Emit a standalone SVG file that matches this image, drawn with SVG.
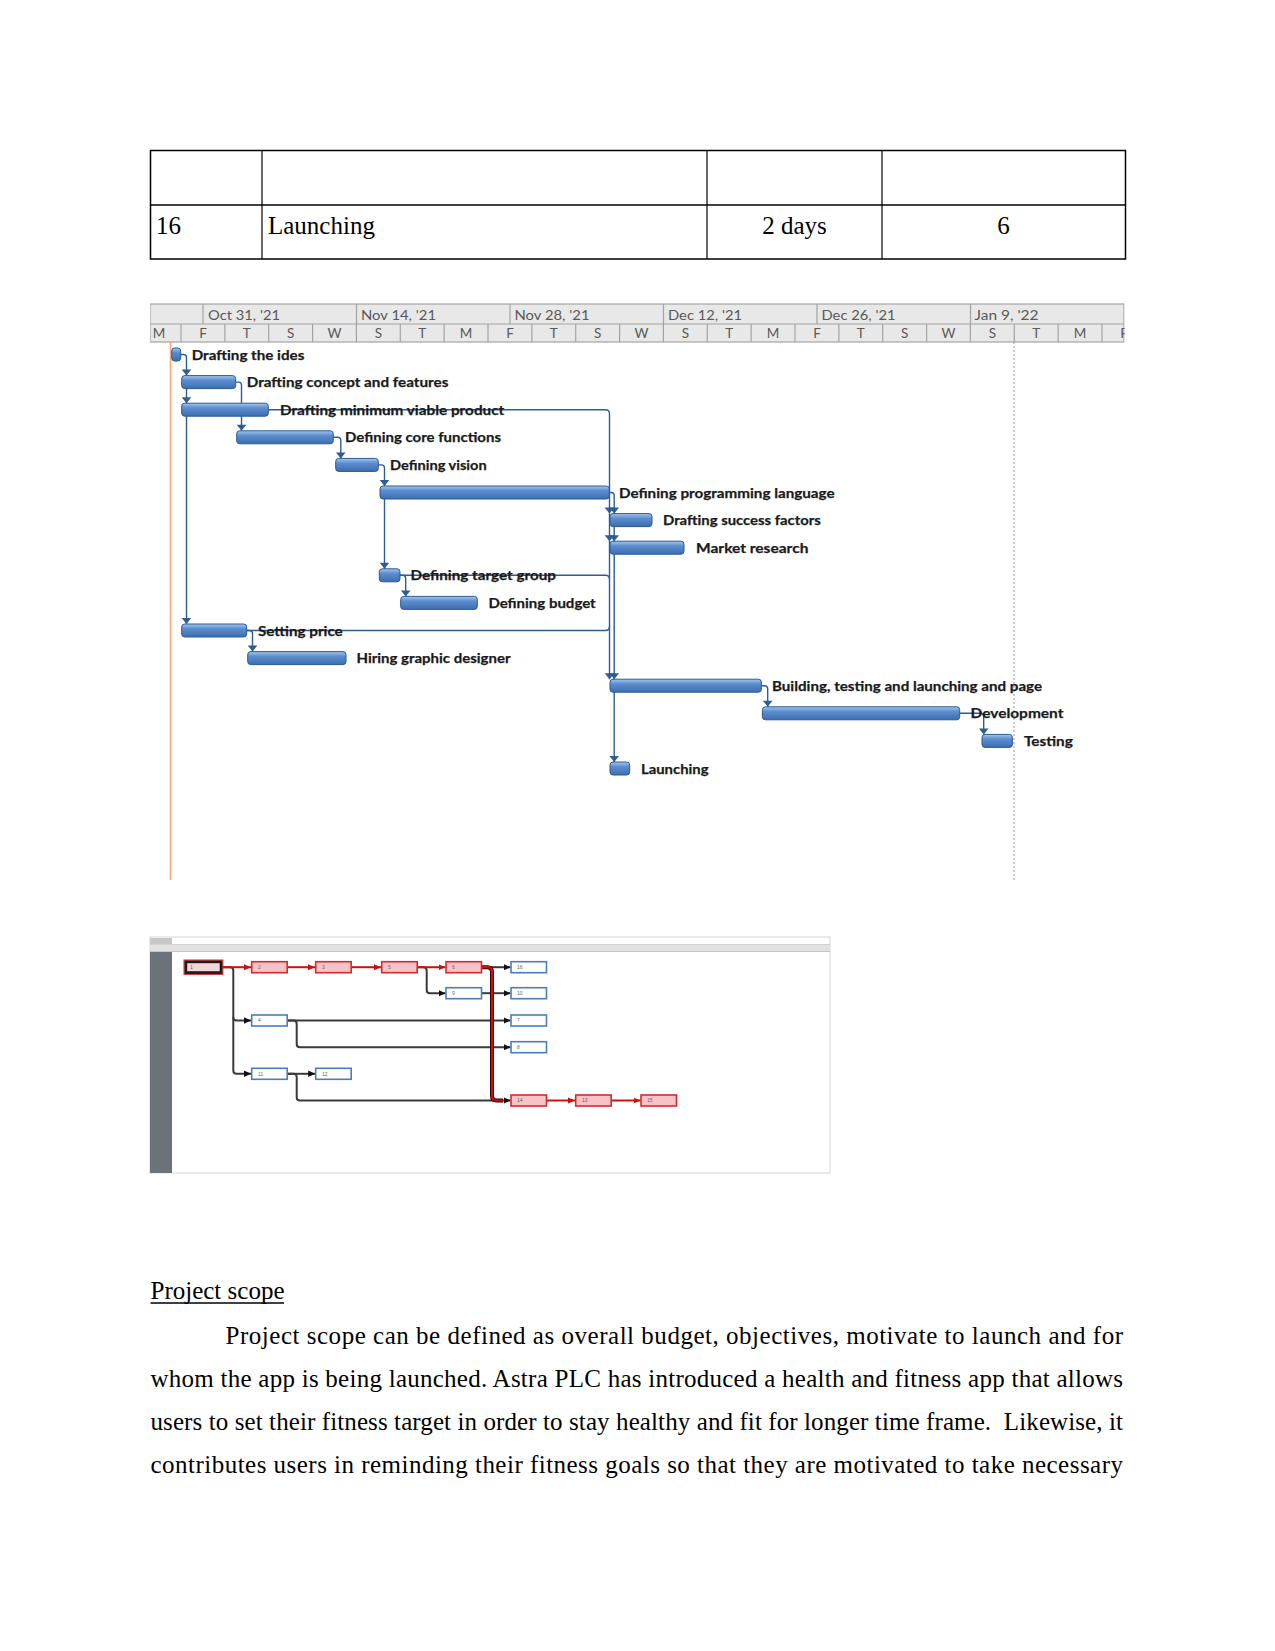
<svg xmlns="http://www.w3.org/2000/svg" xmlns:xlink="http://www.w3.org/1999/xlink" width="1275" height="1651" viewBox="0 0 1275 1651">
<style>
.doc{font-family:"Liberation Serif","Times New Roman",serif;font-size:25px;fill:#000}
.hdr{font-family:Lato,"Liberation Sans",sans-serif;font-size:13.5px;fill:#595959}
.lbl{font-family:Lato,"Liberation Sans",sans-serif;font-size:14px;font-weight:bold;fill:#1a1a1a;stroke:#1a1a1a;stroke-width:0.25}
.bar{fill:url(#barG);stroke:#2b5a92;stroke-width:1}
.lnk{fill:none;stroke:#2f5d93;stroke-width:1.4}
.nb{fill:#fff;stroke:#4a7dbc;stroke-width:1.6}
.nr{fill:#f8c3c6;stroke:#d42a30;stroke-width:1.6}
.nl{font-family:"Liberation Sans",Arial,sans-serif;font-size:5px;fill:#666}
.bk{fill:none;stroke:#3a3a3a;stroke-width:2}
.rd{fill:none;stroke:#d01010;stroke-width:2}
</style>
<defs>
<linearGradient id="barG" x1="0" y1="0" x2="0" y2="1">
<stop offset="0" stop-color="#a9c6ea"/>
<stop offset="0.35" stop-color="#5d8fd0"/>
<stop offset="1" stop-color="#3c6db0"/>
</linearGradient>
<path id="ga" d="M-4.8,-6 L4.8,-6 L0,0 Z" fill="#2f5d93"/>
<marker id="ab" markerWidth="8" markerHeight="8" refX="7" refY="4" orient="auto" markerUnits="userSpaceOnUse">
<path d="M0,0.8 L7,4 L0,7.2 Z" fill="#111"/>
</marker>
<marker id="ar" markerWidth="8" markerHeight="8" refX="7" refY="4" orient="auto" markerUnits="userSpaceOnUse">
<path d="M0,1 L7,4 L0,7 Z" fill="#c81010"/>
</marker>
<clipPath id="hclip"><rect x="150" y="300" width="974.5" height="50"/></clipPath>
</defs>
<rect width="1275" height="1651" fill="#fff"/>

<!-- Table -->
<g id="table">
<rect x="150.5" y="150.5" width="975" height="108.5" fill="none" stroke="#000" stroke-width="1.5"/>
<line x1="150.5" y1="205" x2="1125.5" y2="205" stroke="#000" stroke-width="1.3"/>
<line x1="262" y1="150.5" x2="262" y2="259" stroke="#000" stroke-width="1.2"/>
<line x1="707" y1="150.5" x2="707" y2="259" stroke="#000" stroke-width="1.2"/>
<line x1="882" y1="150.5" x2="882" y2="259" stroke="#000" stroke-width="1.2"/>
<text class="doc" x="156" y="234">16</text>
<text class="doc" x="268" y="234">Launching</text>
<text class="doc" x="794.5" y="234" text-anchor="middle">2 days</text>
<text class="doc" x="1003.5" y="234" text-anchor="middle">6</text>
</g>

<!-- Gantt chart -->
<g id="gantt-header" clip-path="url(#hclip)">
<rect x="150" y="304" width="974" height="38" fill="#e8e8e8" stroke="#a3a3a3" stroke-width="1.2"/>
<line x1="150" y1="324" x2="1124" y2="324" stroke="#a3a3a3" stroke-width="1.2"/>
<g stroke="#a3a3a3" stroke-width="1.2">
<line x1="203" y1="304" x2="203" y2="324"/><line x1="356.5" y1="304" x2="356.5" y2="324"/><line x1="510" y1="304" x2="510" y2="324"/><line x1="663.5" y1="304" x2="663.5" y2="324"/><line x1="817" y1="304" x2="817" y2="324"/><line x1="970.5" y1="304" x2="970.5" y2="324"/>
<line x1="181" y1="324" x2="181" y2="342"/><line x1="224.9" y1="324" x2="224.9" y2="342"/><line x1="268.7" y1="324" x2="268.7" y2="342"/><line x1="312.6" y1="324" x2="312.6" y2="342"/><line x1="356.4" y1="324" x2="356.4" y2="342"/><line x1="400.3" y1="324" x2="400.3" y2="342"/><line x1="444.1" y1="324" x2="444.1" y2="342"/><line x1="488" y1="324" x2="488" y2="342"/><line x1="531.9" y1="324" x2="531.9" y2="342"/><line x1="575.7" y1="324" x2="575.7" y2="342"/><line x1="619.6" y1="324" x2="619.6" y2="342"/><line x1="663.4" y1="324" x2="663.4" y2="342"/><line x1="707.3" y1="324" x2="707.3" y2="342"/><line x1="751.1" y1="324" x2="751.1" y2="342"/><line x1="795" y1="324" x2="795" y2="342"/><line x1="838.9" y1="324" x2="838.9" y2="342"/><line x1="882.7" y1="324" x2="882.7" y2="342"/><line x1="926.6" y1="324" x2="926.6" y2="342"/><line x1="970.4" y1="324" x2="970.4" y2="342"/><line x1="1014.3" y1="324" x2="1014.3" y2="342"/><line x1="1058.1" y1="324" x2="1058.1" y2="342"/><line x1="1102" y1="324" x2="1102" y2="342"/>
</g>
<text class="hdr" x="208" y="319.5" textLength="72" lengthAdjust="spacingAndGlyphs">Oct 31, '21</text>
<text class="hdr" x="361" y="319.5" textLength="75" lengthAdjust="spacingAndGlyphs">Nov 14, '21</text>
<text class="hdr" x="514.5" y="319.5" textLength="75" lengthAdjust="spacingAndGlyphs">Nov 28, '21</text>
<text class="hdr" x="668" y="319.5" textLength="74" lengthAdjust="spacingAndGlyphs">Dec 12, '21</text>
<text class="hdr" x="821.5" y="319.5" textLength="74" lengthAdjust="spacingAndGlyphs">Dec 26, '21</text>
<text class="hdr" x="974.5" y="319.5" textLength="64" lengthAdjust="spacingAndGlyphs">Jan 9, '22</text>
<g class="hdr" text-anchor="middle">
<text x="159" y="338">M</text><text x="203" y="338">F</text><text x="246.8" y="338">T</text><text x="290.6" y="338">S</text><text x="334.5" y="338">W</text><text x="378.4" y="338">S</text><text x="422.2" y="338">T</text><text x="466" y="338">M</text><text x="510" y="338">F</text><text x="553.8" y="338">T</text><text x="597.7" y="338">S</text><text x="641.5" y="338">W</text><text x="685.4" y="338">S</text><text x="729.2" y="338">T</text><text x="773" y="338">M</text><text x="817" y="338">F</text><text x="860.8" y="338">T</text><text x="904.7" y="338">S</text><text x="948.5" y="338">W</text><text x="992.4" y="338">S</text><text x="1036.2" y="338">T</text><text x="1080" y="338">M</text><text x="1124" y="338">F</text>
</g>
</g>

<g id="gantt-guides">
<line x1="170.5" y1="342" x2="170.5" y2="880" stroke="#f4a582" stroke-width="1.5"/>
<line x1="1014" y1="342" x2="1014" y2="880" stroke="#a8a8a8" stroke-width="1.2" stroke-dasharray="2,2"/>
</g>

<g id="gantt-links">
<path class="lnk" d="M181,354.5 H183.5 Q186.5,354.5 186.5,357.5 V624"/>
<path class="lnk" d="M235.7,382.1 H238.5 Q241.5,382.1 241.5,385 V430.8"/>
<path class="lnk" d="M268.3,409.7 H605.5 Q609.5,409.7 609.5,413.7 V679.2"/>
<path class="lnk" d="M333.3,437.3 H337.5 Q340.8,437.3 340.8,440.6 V458.4"/>
<path class="lnk" d="M378.3,464.9 H381.5 Q384.5,464.9 384.5,468 V568.8"/>
<path class="lnk" d="M609.3,492.5 H611 Q614.2,492.5 614.2,495.7 V762"/>
<path class="lnk" d="M400,575.3 H402.5 Q405.7,575.3 405.7,578.5 V596.4"/>
<path class="lnk" d="M400,575.3 H605.5 Q609.5,575.3 609.5,579.3"/>
<path class="lnk" d="M246.7,630.5 H249.3 Q252.5,630.5 252.5,633.7 V651.6"/>
<path class="lnk" d="M246.7,630.5 H605.5 Q609.5,630.5 609.5,626.5"/>
<path class="lnk" d="M761.4,685.7 H764.5 Q767.7,685.7 767.7,688.9 V706.8"/>
<path class="lnk" d="M959.7,713.3 H980.5 Q983.7,713.3 983.7,716.5 V734.4"/>
<use href="#ga" x="186.5" y="375.6"/>
<use href="#ga" x="186.5" y="403.2"/>
<use href="#ga" x="186.5" y="624"/>
<use href="#ga" x="241.5" y="430.8"/>
<use href="#ga" x="340.8" y="458.4"/>
<use href="#ga" x="384.5" y="486"/>
<use href="#ga" x="384.5" y="568.8"/>
<use href="#ga" x="405.7" y="596.4"/>
<use href="#ga" x="252.5" y="651.6"/>
<use href="#ga" x="609.5" y="513.6"/>
<use href="#ga" x="614.2" y="513.6"/>
<use href="#ga" x="609.5" y="541.2"/>
<use href="#ga" x="614.2" y="541.2"/>
<use href="#ga" x="609.5" y="679.2"/>
<use href="#ga" x="614.2" y="679.2"/>
<use href="#ga" x="614.2" y="762"/>
<use href="#ga" x="767.7" y="706.8"/>
<use href="#ga" x="983.7" y="734.4"/>
</g>

<g id="task-0"><rect class="bar" x="171.7" y="348" width="9" height="13" rx="3"/><text class="lbl" x="191.7" y="359.5" textLength="112.7" lengthAdjust="spacingAndGlyphs">Drafting the ides</text></g>
<g id="task-1"><rect class="bar" x="181.7" y="375.6" width="54" height="13" rx="3"/><text class="lbl" x="246.7" y="387.1" textLength="201.7" lengthAdjust="spacingAndGlyphs">Drafting concept and features</text></g>
<g id="task-2"><rect class="bar" x="181.7" y="403.2" width="86.6" height="13" rx="3"/><text class="lbl" x="280" y="414.7" textLength="224.3" lengthAdjust="spacingAndGlyphs">Drafting minimum viable product</text></g>
<g id="task-3"><rect class="bar" x="236.7" y="430.8" width="96.6" height="13" rx="3"/><text class="lbl" x="345" y="442.3" textLength="156" lengthAdjust="spacingAndGlyphs">Defining core functions</text></g>
<g id="task-4"><rect class="bar" x="335.7" y="458.4" width="42.6" height="13" rx="3"/><text class="lbl" x="390" y="469.9" textLength="96.7" lengthAdjust="spacingAndGlyphs">Defining vision</text></g>
<g id="task-5"><rect class="bar" x="380" y="486" width="229.3" height="13" rx="3"/><text class="lbl" x="619" y="497.5" textLength="215.6" lengthAdjust="spacingAndGlyphs">Defining programming language</text></g>
<g id="task-6"><rect class="bar" x="610" y="513.6" width="42" height="13" rx="3"/><text class="lbl" x="663" y="525.1" textLength="157.8" lengthAdjust="spacingAndGlyphs">Drafting success factors</text></g>
<g id="task-7"><rect class="bar" x="610" y="541.2" width="74" height="13" rx="3"/><text class="lbl" x="696" y="552.7" textLength="112.4" lengthAdjust="spacingAndGlyphs">Market research</text></g>
<g id="task-8"><rect class="bar" x="379.3" y="568.8" width="20.7" height="13" rx="3"/><text class="lbl" x="410.6" y="580.3" textLength="145.3" lengthAdjust="spacingAndGlyphs">Defining target group</text></g>
<g id="task-9"><rect class="bar" x="400.7" y="596.4" width="76.6" height="13" rx="3"/><text class="lbl" x="488.4" y="607.9" textLength="107.3" lengthAdjust="spacingAndGlyphs">Defining budget</text></g>
<g id="task-10"><rect class="bar" x="181.7" y="624" width="65" height="13" rx="3"/><text class="lbl" x="258" y="635.5" textLength="84.7" lengthAdjust="spacingAndGlyphs">Setting price</text></g>
<g id="task-11"><rect class="bar" x="247.7" y="651.6" width="98.3" height="13" rx="3"/><text class="lbl" x="356.5" y="663.1" textLength="154" lengthAdjust="spacingAndGlyphs">Hiring graphic designer</text></g>
<g id="task-12"><rect class="bar" x="610" y="679.2" width="151.4" height="13" rx="3"/><text class="lbl" x="772" y="690.7" textLength="270" lengthAdjust="spacingAndGlyphs">Building, testing and launching and page</text></g>
<g id="task-13"><rect class="bar" x="762.4" y="706.8" width="197.3" height="13" rx="3"/><text class="lbl" x="970.5" y="718.3" textLength="93" lengthAdjust="spacingAndGlyphs">Development</text></g>
<g id="task-14"><rect class="bar" x="982" y="734.4" width="30.4" height="13" rx="3"/><text class="lbl" x="1024" y="745.9" textLength="48.8" lengthAdjust="spacingAndGlyphs">Testing</text></g>
<g id="task-15"><rect class="bar" x="610" y="762" width="19.7" height="13" rx="3"/><text class="lbl" x="641" y="773.5" textLength="67.5" lengthAdjust="spacingAndGlyphs">Launching</text></g>

<!-- Network diagram -->
<g id="network-frame">
<rect x="150" y="937" width="680" height="236" fill="#fff" stroke="#dcdcdc" stroke-width="1.2"/>
<rect x="150" y="938" width="22" height="6.5" fill="#c6c6c6"/>
<rect x="150" y="944" width="680" height="8" fill="#e2e2e2"/>
<line x1="150" y1="944.5" x2="830" y2="944.5" stroke="#cfcfcf"/>
<line x1="150" y1="951.5" x2="830" y2="951.5" stroke="#c4c4c4"/>
<rect x="150" y="952" width="22" height="221" fill="#6c7279"/>
</g>

<g id="network-links">
<path class="bk" d="M221.7,967.2 H230 Q233.3,967.2 233.3,970.5 V1070.5 Q233.3,1073.8 236.6,1073.8 H251" marker-end="url(#ab)"/>
<path class="bk" d="M233.3,1017 Q233.3,1020.5 236.6,1020.5 H251" marker-end="url(#ab)"/>
<path class="bk" d="M416.7,967.2 H423.4 Q426.7,967.2 426.7,970.5 V989.9 Q426.7,993.2 430,993.2 H445.5" marker-end="url(#ab)"/>
<path class="bk" d="M481,967.2 H510.5" marker-end="url(#ab)"/>
<path class="bk" d="M481,993.2 H510.5" marker-end="url(#ab)"/>
<path class="bk" d="M287.3,1020.5 H510.5" marker-end="url(#ab)"/>
<path class="bk" d="M287.3,1020.5 H293.4 Q296.7,1020.5 296.7,1023.8 V1043.9 Q296.7,1047.2 300,1047.2 H510.5" marker-end="url(#ab)"/>
<path class="bk" d="M287.3,1073.8 H315.2" marker-end="url(#ab)"/>
<path class="bk" d="M287.3,1073.8 H293.4 Q296.7,1073.8 296.7,1077.1 V1097.2 Q296.7,1100.5 300,1100.5 H510.5" marker-end="url(#ab)"/>
<path d="M481,967.2 H487 Q492,967.2 492,972 V1096 Q492,1100.5 496.5,1100.5 H503" fill="none" stroke="#2a0000" stroke-width="4"/>
<path d="M481,967.2 H487 Q492,967.2 492,972 V1096 Q492,1100.5 496.5,1100.5 H503" fill="none" stroke="#cc1010" stroke-width="2.2"/>
<path class="rd" d="M221.7,967.2 H251" marker-end="url(#ar)"/>
<path class="rd" d="M287.3,967.2 H315" marker-end="url(#ar)"/>
<path class="rd" d="M351,967.2 H381" marker-end="url(#ar)"/>
<path class="rd" d="M416.7,967.2 H445.5" marker-end="url(#ar)"/>
<path class="rd" d="M546.7,1100.5 H575" marker-end="url(#ar)"/>
<path class="rd" d="M610.7,1100.5 H640.5" marker-end="url(#ar)"/>
</g>

<g id="node-1"><rect x="185.7" y="961.7" width="35.5" height="11" fill="#f3d6d8" stroke="#1c1c1c" stroke-width="3"/><rect x="184" y="960" width="38.9" height="14.4" fill="none" stroke="#d42a30" stroke-width="1"/><text class="nl" x="190" y="969">1</text></g>
<g id="node-2"><rect class="nr" x="251.7" y="961.7" width="35.5" height="11"/><text class="nl" x="258" y="969">2</text></g>
<g id="node-3"><rect class="nr" x="315.7" y="961.7" width="35.5" height="11"/><text class="nl" x="322" y="969">3</text></g>
<g id="node-5"><rect class="nr" x="381.7" y="961.7" width="35.5" height="11"/><text class="nl" x="388" y="969">5</text></g>
<g id="node-6"><rect class="nr" x="446" y="961.7" width="35.5" height="11"/><text class="nl" x="452" y="969">6</text></g>
<g id="node-16"><rect class="nb" x="511" y="961.7" width="35.5" height="11"/><text class="nl" x="517" y="969">16</text></g>
<g id="node-9"><rect class="nb" x="446" y="987.7" width="35.5" height="11"/><text class="nl" x="452" y="995">9</text></g>
<g id="node-10"><rect class="nb" x="511" y="987.7" width="35.5" height="11"/><text class="nl" x="517" y="995">10</text></g>
<g id="node-4"><rect class="nb" x="251.7" y="1015" width="35.5" height="11"/><text class="nl" x="258" y="1022.3">4</text></g>
<g id="node-7"><rect class="nb" x="511" y="1015" width="35.5" height="11"/><text class="nl" x="517" y="1022.3">7</text></g>
<g id="node-8"><rect class="nb" x="511" y="1041.7" width="35.5" height="11"/><text class="nl" x="517" y="1049">8</text></g>
<g id="node-11"><rect class="nb" x="251.7" y="1068.3" width="35.5" height="11"/><text class="nl" x="258" y="1075.6">11</text></g>
<g id="node-12"><rect class="nb" x="315.7" y="1068.3" width="35.5" height="11"/><text class="nl" x="322" y="1075.6">12</text></g>
<g id="node-14"><rect class="nr" x="511" y="1095" width="35.5" height="11"/><text class="nl" x="517" y="1102.3">14</text></g>
<g id="node-13"><rect class="nr" x="575.7" y="1095" width="35.5" height="11"/><text class="nl" x="582" y="1102.3">13</text></g>
<g id="node-15"><rect class="nr" x="641" y="1095" width="35.5" height="11"/><text class="nl" x="647" y="1102.3">15</text></g>

<!-- Text -->
<g id="scope-text">
<text class="doc" x="150.5" y="1299">Project scope</text>
<line x1="150.5" y1="1303" x2="284" y2="1303" stroke="#000" stroke-width="1.3"/>
<text class="doc" x="225.5" y="1343.5" textLength="897.5">Project scope can be defined as overall budget, objectives, motivate to launch and for</text>
<text class="doc" x="150.5" y="1386.5" textLength="972.5">whom the app is being launched. Astra PLC has introduced a health and fitness app that allows</text>
<text class="doc" x="150.5" y="1429.7" textLength="972.5" xml:space="preserve">users to set their fitness target in order to stay healthy and fit for longer time frame.  Likewise, it</text>
<text class="doc" x="150.5" y="1473" textLength="972.5">contributes users in reminding their fitness goals so that they are motivated to take necessary</text>
</g>
</svg>
